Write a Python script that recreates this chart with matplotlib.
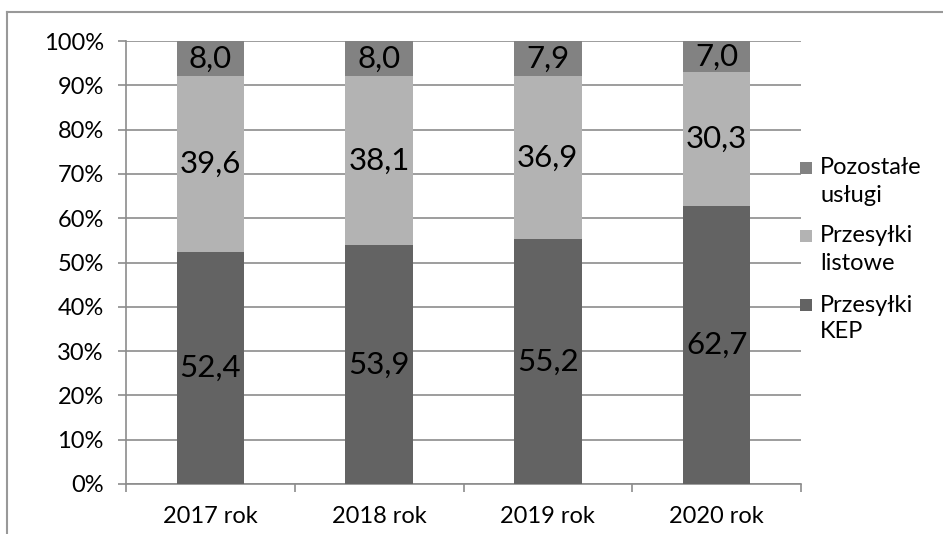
import matplotlib
matplotlib.use("Agg")
import matplotlib.pyplot as plt
from matplotlib.patches import Rectangle
from matplotlib.lines import Line2D
import numpy as np

plt.rcParams['font.family'] = ['Lato', 'DejaVu Sans']

years = ["2017 rok", "2018 rok", "2019 rok", "2020 rok"]
kep = [52.4, 53.9, 55.2, 62.7]
listowe = [39.6, 38.1, 36.9, 30.3]
pozostale = [8.0, 8.0, 7.9, 7.0]
series_names = ["Przesyłki KEP", "Przesyłki listowe", "Pozostałe usługi"]
legend_labels = ["Pozostałe\nusługi", "Przesyłki\nlistowe", "Przesyłki\nKEP"]
colors = ["#636363", "#b3b3b3", "#828282"]
grid_color = "#8c8c8c"

W, H = 943, 534
fig = plt.figure(figsize=(W / 100, H / 100), dpi=100)
ax = fig.add_axes([126 / W, 50 / H, 675 / W, 443 / H])

x = np.arange(len(years))
series = [kep, listowe, pozostale]
totals = np.sum(series, axis=0)
bottom = np.zeros(len(years))
for vals, col in zip(series, colors):
    share = np.array(vals) / totals * 100
    ax.bar(x, share, bottom=bottom, width=0.4, color=col, zorder=3)
    for xi, b, s, v in zip(x, bottom, share, vals):
        ax.text(xi, b + s / 2, f"{v:.1f}".replace(".", ","), ha="center", va="center",
                fontsize=22.5, color="#000000", zorder=4)
    bottom += share

ax.set_xlim(-0.5, len(years) - 0.5)
ax.set_ylim(0, 100)
ax.set_yticks(np.arange(0, 101, 10))
ax.set_yticklabels([f"{v}%" for v in range(0, 101, 10)], fontsize=17)
ax.yaxis.grid(True, color=grid_color, linewidth=1.2, zorder=0)
ax.tick_params(axis="y", length=6, width=1.2, color=grid_color, pad=10)

ax.set_xticks(x)
ax.set_xticklabels(years, fontsize=17)
ax.tick_params(axis="x", length=0, pad=16)
ax.set_xticks(np.arange(-0.5, len(years)), minor=True)
ax.tick_params(axis="x", which="minor", length=6, width=1.2, color=grid_color)

for side in ["top", "right"]:
    ax.spines[side].set_visible(False)
for side in ["left", "bottom"]:
    ax.spines[side].set_color(grid_color)
    ax.spines[side].set_linewidth(1.2)

# legend drawn in figure pixels
leg_items = [(legend_labels[0], colors[2], 168), (legend_labels[1], colors[1], 236),
             (legend_labels[2], colors[0], 305)]
for lbl, col, ypix in leg_items:
    fig.patches.append(Rectangle(((800) / W, 1 - (ypix + 6) / H), 12 / W, 12 / H,
                                 transform=fig.transFigure, facecolor=col, edgecolor="none"))
    first, second = lbl.split("\n")
    fig.text(820 / W, 1 - ypix / H, first, fontsize=17, va="center", ha="left")
    fig.text(820 / W, 1 - (ypix + 27) / H, second, fontsize=17, va="center", ha="left")

# outer chart frame
fig.lines.append(Line2D([7.5 / W, 7.5 / W], [0, 1 - 11.5 / H], transform=fig.transFigure,
                        color="#999999", linewidth=1.5))
fig.lines.append(Line2D([7.5 / W, 1], [1 - 11.5 / H, 1 - 11.5 / H], transform=fig.transFigure,
                        color="#999999", linewidth=1.5))

fig.savefig("out.png", dpi=100)
